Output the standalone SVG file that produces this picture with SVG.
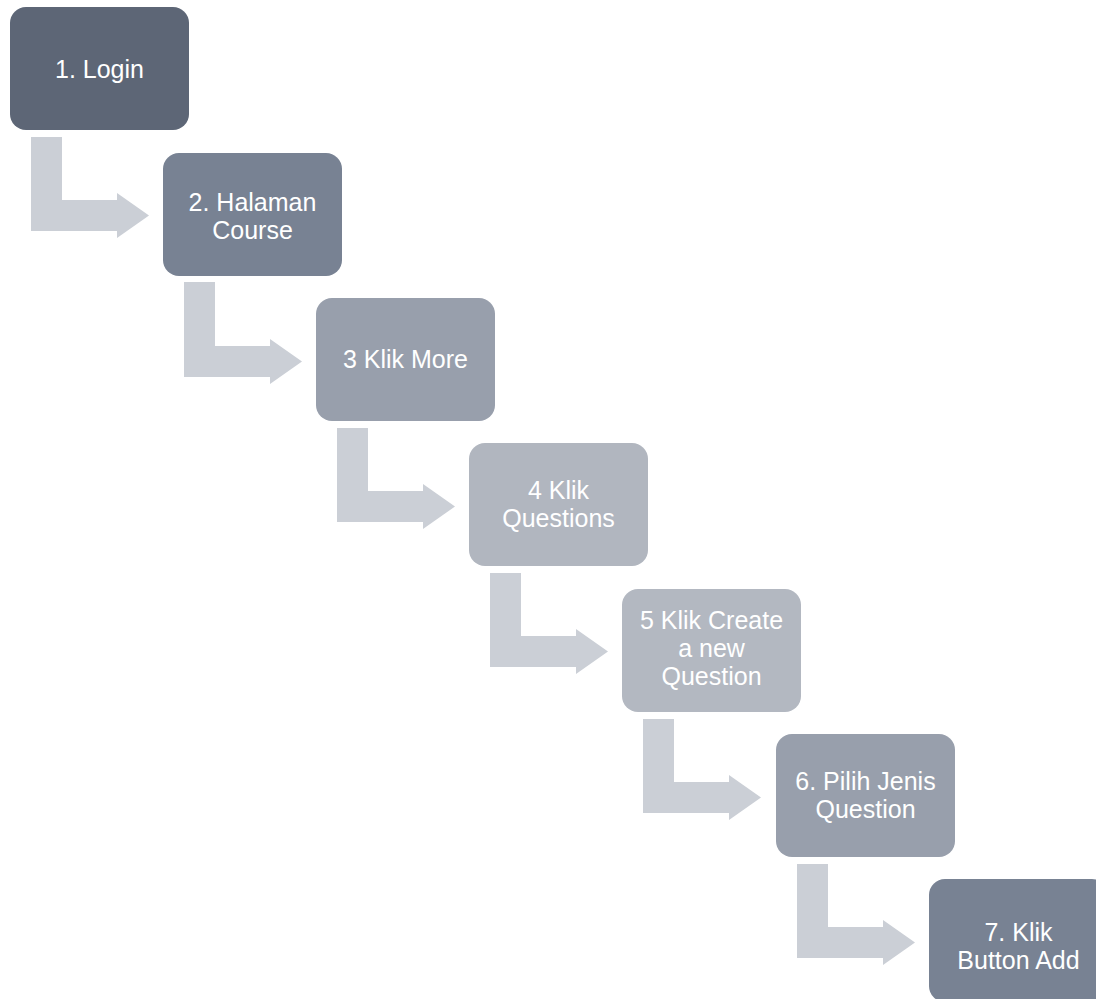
<svg xmlns="http://www.w3.org/2000/svg" width="1096" height="999" viewBox="0 0 1096 999">
<style>
.n rect{rx:16px;ry:16px;}
.n text{font-family:"Liberation Sans",Arial,sans-serif;font-size:25px;fill:#ffffff;text-anchor:middle;}
.c path{fill:#cbcfd6;}
</style>
<rect width="1096" height="999" fill="#ffffff"/>
<g id="connectors" class="c">
<path d="M31,137 H62 V200 H117 V193 L149,215.5 L117,238 V231 H31 Z"/>
<path d="M184,282 H215 V346 H270 V339 L302,361.5 L270,384 V377 H184 Z"/>
<path d="M337,428 H368 V491 H423 V484 L455,506.5 L423,529 V522 H337 Z"/>
<path d="M490,573 H521 V636 H576 V629 L608,651.5 L576,674 V667 H490 Z"/>
<path d="M643,719 H674 V782 H729 V775 L761,797.5 L729,820 V813 H643 Z"/>
<path d="M797,864 H828 V927 H883 V920 L915,942.5 L883,965 V958 H797 Z"/>
</g>
<g id="node1" class="n"><rect x="10" y="7" width="179" height="123" fill="#5d6676"/><text x="99.5" y="78">1. Login</text></g>
<g id="node2" class="n"><rect x="163" y="153" width="179" height="123" fill="#788293"/><text x="252.5" y="210.5">2. Halaman<tspan x="252.5" dy="28">Course</tspan></text></g>
<g id="node3" class="n"><rect x="316" y="298" width="179" height="123" fill="#989fac"/><text x="405.5" y="368">3 Klik More</text></g>
<g id="node4" class="n"><rect x="469" y="443" width="179" height="123" fill="#b1b6bf"/><text x="558.5" y="499">4 Klik<tspan x="558.5" dy="28">Questions</tspan></text></g>
<g id="node5" class="n"><rect x="622" y="589" width="179" height="123" fill="#b3b8c1"/><text x="711.5" y="629">5 Klik Create<tspan x="711.5" dy="28">a new</tspan><tspan x="711.5" dy="28">Question</tspan></text></g>
<g id="node6" class="n"><rect x="776" y="734" width="179" height="123" fill="#989fac"/><text x="865.5" y="790">6. Pilih Jenis<tspan x="865.5" dy="28">Question</tspan></text></g>
<g id="node7" class="n"><rect x="929" y="879" width="179" height="123" fill="#788293"/><text x="1018.5" y="941">7. Klik<tspan x="1018.5" dy="28">Button Add</tspan></text></g>
</svg>
